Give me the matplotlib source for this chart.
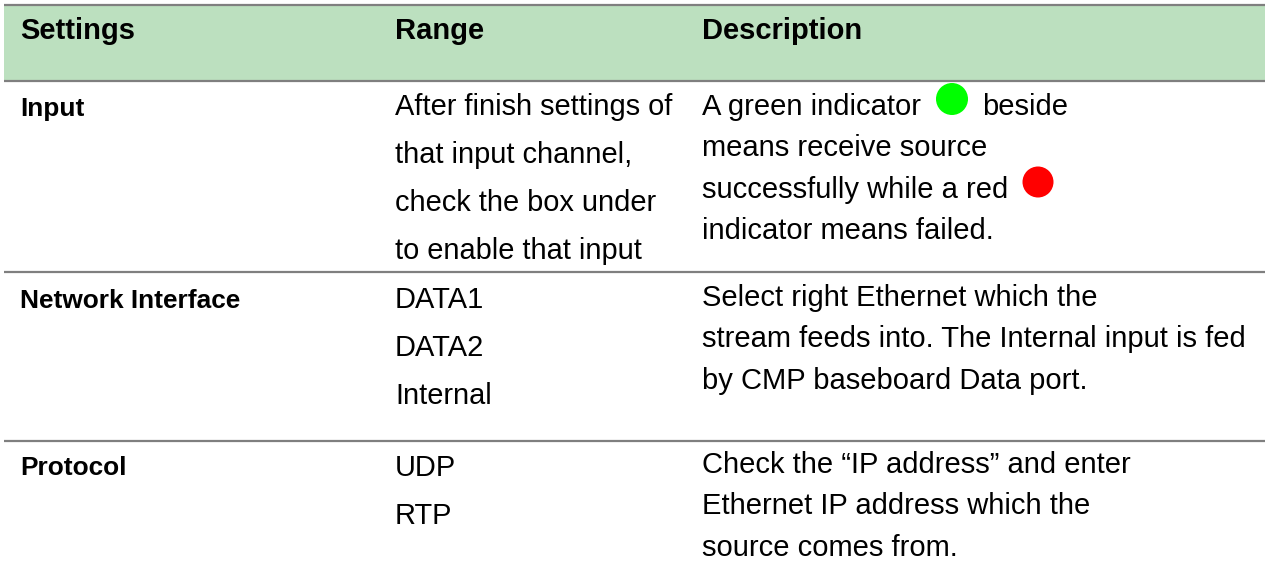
import matplotlib
matplotlib.use('Agg')
import matplotlib.pyplot as plt
from matplotlib.patches import Circle, Rectangle

plt.rcParams['font.family'] = ['Liberation Sans', 'DejaVu Sans']

headers = ['Settings', 'Range', 'Description']
settings = ['Input', 'Network Interface', 'Protocol']
ranges = [
    ['After finish settings of', 'that input channel,', 'check the box under', 'to enable that input'],
    ['DATA1', 'DATA2', 'Internal'],
    ['UDP', 'RTP'],
]
descriptions = [
    ['A green indicator', 'means receive source', 'successfully while a red', 'indicator means failed.'],
    ['Select right Ethernet which the', 'stream feeds into. The Internal input is fed', 'by CMP baseboard Data port.'],
    ['Check the \u201cIP address\u201d and enter', 'Ethernet IP address which the', 'source comes from.'],
]

# layout, in pixels of the picture
W, H = 1265, 565
col_x = [20, 395, 702]
table_left = 4
rule_y = [5, 81, 272, 441]
setting_base = [116, 308, 475]
range_base = [115, 308, 476]
desc_base = [115, 306, 473]
range_gap = 48
desc_gap = 41.3
range_size = 20.85
desc_size = 21.0
setting_size = 18.9
header_size = 21.0

fig = plt.figure(figsize=(W / 100, H / 100), dpi=100)
ax = fig.add_axes([0, 0, 1, 1])
ax.set_xlim(0, W)
ax.set_ylim(H, 0)
ax.axis('off')

ax.add_patch(Rectangle((table_left, rule_y[0]), W - table_left, rule_y[1] - rule_y[0],
                       facecolor='#bce0bf', edgecolor='none'))
for y in rule_y:
    ax.plot([table_left, W], [y, y], color='#7f7f7f', lw=1.6, solid_capstyle='butt')

for x, name in zip(col_x, headers):
    ax.text(x, 39, name, fontsize=header_size, fontweight='bold', va='baseline', color='black')

for i, name in enumerate(settings):
    ax.text(col_x[0], setting_base[i], name, fontsize=setting_size, fontweight='bold', va='baseline', color='black')
    for j, line in enumerate(ranges[i]):
        ax.text(col_x[1], range_base[i] + j * range_gap, line, fontsize=range_size, va='baseline', color='black')
    for j, line in enumerate(descriptions[i]):
        ax.text(col_x[2], desc_base[i] + j * desc_gap, line, fontsize=desc_size, va='baseline', color='black')

# the word after the green dot and the two indicator dots
ax.text(982, 115, 'beside', fontsize=desc_size, va='baseline', color='black')
ax.add_patch(Circle((952, 99), 16, facecolor='#00ff00', edgecolor='none'))
ax.add_patch(Circle((1038, 182), 15.5, facecolor='#ff0000', edgecolor='none'))

fig.savefig('out.png', dpi=100)
